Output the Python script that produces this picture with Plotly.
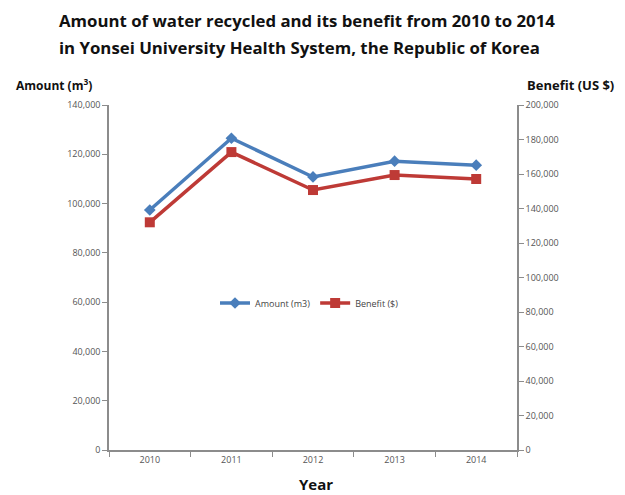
import plotly.graph_objects as go

years = ["2010", "2011", "2012", "2013", "2014"]
amount_m3 = [97400, 126500, 110800, 117200, 115600]
benefit_usd = [132000, 172700, 150700, 159400, 157100]
left_ticks = [0, 20000, 40000, 60000, 80000, 100000, 120000, 140000]
right_ticks = [0, 20000, 40000, 60000, 80000, 100000, 120000, 140000, 160000, 180000, 200000]

blue = "#4A7EBB"
red = "#BE3A36"
axis_col = "#8C8C8C"
tick_font = dict(family="Open Sans", size=9, color="#555555")

W, H = 625, 495
ML, MR, MT, MB = 109, 108, 105, 45
plot_h = H - MT - MB
plot_w = W - ML - MR


def py(pix):
    return (H - MB - pix) / plot_h


def px(pix):
    return (pix - ML) / plot_w


fig = go.Figure()
fig.add_trace(go.Scatter(
    x=years, y=amount_m3, name="Amount (m3)", mode="lines+markers",
    line=dict(color=blue, width=3.5),
    marker=dict(symbol="diamond", size=9, color=blue),
    yaxis="y"))
fig.add_trace(go.Scatter(
    x=years, y=benefit_usd, name="Benefit ($)", mode="lines+markers",
    line=dict(color=red, width=3.5),
    marker=dict(symbol="square", size=10, color=red),
    yaxis="y2"))

fig.update_layout(
    width=W, height=H,
    margin=dict(l=ML, r=MR, t=MT, b=MB),
    paper_bgcolor="white", plot_bgcolor="white",
    showlegend=True,
    legend=dict(orientation="h", x=px(215), y=py(303), xanchor="left", yanchor="middle",
                font=dict(family="Open Sans", size=9, color="#444444"),
                bgcolor="rgba(0,0,0,0)", itemwidth=30),
    xaxis=dict(type="category", range=[-0.5, 4.5], tickson="boundaries",
               showline=True, linecolor=axis_col, linewidth=1.5,
               ticks="outside", ticklen=5, tickcolor=axis_col,
               showgrid=False, zeroline=False, tickfont=tick_font),
    yaxis=dict(range=[0, 140000], tickvals=left_ticks, tickformat=",d",
               showline=True, linecolor=axis_col, linewidth=1.5,
               ticks="outside", ticklen=5, tickcolor=axis_col,
               showgrid=False, zeroline=False, tickfont=tick_font),
    yaxis2=dict(range=[0, 200000], tickvals=right_ticks, tickformat=",d",
                overlaying="y", side="right",
                showline=True, linecolor=axis_col, linewidth=1.5,
                ticks="outside", ticklen=5, tickcolor=axis_col,
                showgrid=False, zeroline=False, tickfont=tick_font),
)

fig.add_annotation(text="<b>Amount of water recycled and its benefit from 2010 to 2014</b>",
                   x=px(57), y=py(20), xref="paper", yref="paper", showarrow=False,
                   xanchor="left", yanchor="middle",
                   font=dict(family="Open Sans", size=16.8, color="#111111"))
fig.add_annotation(text="<b>in Yonsei University Health System, the Republic of Korea</b>",
                   x=px(57), y=py(47), xref="paper", yref="paper", showarrow=False,
                   xanchor="left", yanchor="middle",
                   font=dict(family="Open Sans", size=16.8, color="#111111"))
fig.add_annotation(text="<b>Amount (m<sup>3</sup>)</b>",
                   x=px(14), y=py(85), xref="paper", yref="paper", showarrow=False,
                   xanchor="left", yanchor="middle",
                   font=dict(family="Open Sans", size=12, color="#111111"))
fig.add_annotation(text="<b>Benefit (US $)</b>",
                   x=px(616), y=py(85), xref="paper", yref="paper", showarrow=False,
                   xanchor="right", yanchor="middle",
                   font=dict(family="Open Sans", size=13, color="#111111"))
fig.add_annotation(text="<b>Year</b>",
                   x=px(316), y=py(484), xref="paper", yref="paper", showarrow=False,
                   xanchor="center", yanchor="middle",
                   font=dict(family="Open Sans", size=15, color="#111111"))

fig.write_html("out.html")
